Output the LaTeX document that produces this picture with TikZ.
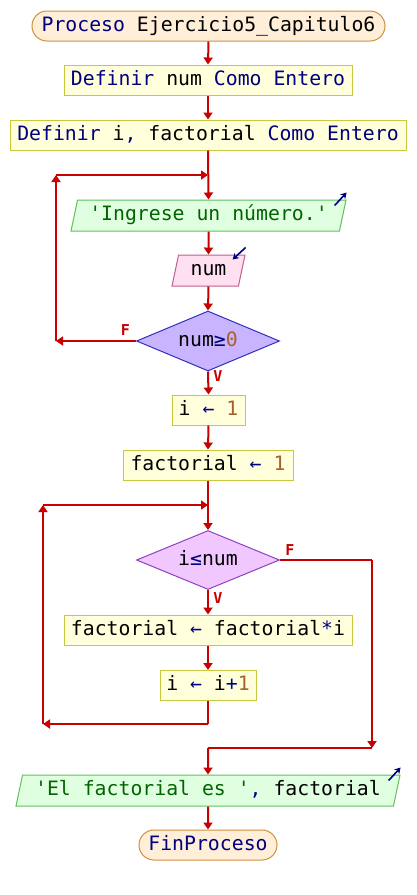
\documentclass[tikz,border=0pt]{standalone}
\usepackage{fontspec}
\usetikzlibrary{shapes.geometric,arrows.meta}
\newfontfamily\pfont{DejaVu Sans Mono}
\newfontfamily\lfont{DejaVu Sans Mono}
\definecolor{kw}{HTML}{000080}
\definecolor{strc}{HTML}{006400}
\definecolor{numc}{HTML}{A8602C}
\definecolor{flow}{HTML}{C80000}
\definecolor{termfill}{HTML}{FFEFD8}
\definecolor{termdraw}{HTML}{D09040}
\definecolor{boxfill}{HTML}{FFFFDC}
\definecolor{boxdraw}{HTML}{C8C83C}
\definecolor{outfill}{HTML}{E0FFE0}
\definecolor{outdraw}{HTML}{60C060}
\definecolor{infill}{HTML}{FFE0F0}
\definecolor{indraw}{HTML}{C06090}
\definecolor{d1fill}{HTML}{C8B4FF}
\definecolor{d1draw}{HTML}{3030C0}
\definecolor{d2fill}{HTML}{F0C8FF}
\definecolor{d2draw}{HTML}{9040C0}
\newcommand{\kwt}[1]{\textcolor{kw}{#1}}
\newcommand{\strt}[1]{\textcolor{strc}{#1}}
\newcommand{\numt}[1]{\textcolor{numc}{#1}}
\begin{document}
\begin{tikzpicture}[x=1pt,y=-1pt,
  every node/.style={font=\pfont\fontsize{19.8}{20}\selectfont, inner sep=0pt, text height=14pt, text depth=4pt},
  term/.style={rectangle, rounded corners=15pt, draw=termdraw, fill=termfill, line width=1pt, minimum height=30pt},
  abox/.style={rectangle, draw=boxdraw, fill=boxfill, line width=1pt, minimum height=30pt},
  para/.style={trapezium, trapezium left angle=70, trapezium right angle=110, trapezium stretches body, line width=1pt, minimum height=31pt},
  outp/.style={para, draw=outdraw, fill=outfill},
  inp/.style={para, draw=indraw, fill=infill},
  dec/.style={diamond, aspect=2.4, line width=1pt, minimum width=143pt, minimum height=60pt},
  flowline/.style={draw=flow, line width=2pt},
  arr/.style={flowline, -{Triangle[length=7pt,width=9pt]}},
  lab/.style={font=\lfont\bfseries\fontsize{15}{15}\selectfont, text=flow, text height=11pt, text depth=0pt},
  icon/.style={draw=kw, line width=1.6pt, -{Stealth[length=6pt,width=7pt]}}
]
\useasboundingbox[fill=white] (0,0) rectangle (416,895);

\node[term, minimum width=353pt] (start) at (208.5,26) {\kwt{Proceso} Ejercicio5\_Capitulo6};
\node[abox, minimum width=288pt] (b1) at (208,80) {\kwt{Definir} num \kwt{Como Entero}};
\node[abox, minimum width=396pt] (b2) at (208,135) {\kwt{Definir} i\kwt{,} factorial \kwt{Como Entero}};
\node[outp, minimum width=275pt] (o1) at (208.5,215.5) {\strt{'Ingrese un número.'}};
\node[inp, minimum width=73pt] (i1) at (208.5,270.5) {num};
\node[dec, fill=d1fill, draw=d1draw] (d1) at (208,341) {num\kwt{≥}\numt{0}};
\node[abox, minimum width=73pt] (a1) at (208.5,410) {i \kwt{←} \numt{1}};
\node[abox, minimum width=170pt] (a2) at (208,465) {factorial \kwt{←} \numt{1}};
\node[dec, fill=d2fill, draw=d2draw, minimum height=59pt] (d2) at (208,560) {i\kwt{≤}num};
\node[abox, minimum width=288pt] (a3) at (208,630) {factorial \kwt{←} factorial\kwt{*}i};
\node[abox, minimum width=96pt] (a4) at (208,685.5) {i \kwt{←} i\kwt{+}\numt{1}};
\node[outp, minimum width=384pt] (o2) at (208,790.5) {\strt{'El factorial es '}\kwt{,} factorial};
\node[term, minimum width=138pt] (end) at (208,845) {\kwt{FinProceso}};

% icons
\draw[icon] ([shift={(-12,6)}]o1.top right corner) -- ([shift={(0,-7)}]o1.top right corner);
\draw[icon] ([shift={(0,-7)}]i1.top right corner) -- ([shift={(-13,5)}]i1.top right corner);
\draw[icon] ([shift={(-12,6)}]o2.top right corner) -- ([shift={(0,-7)}]o2.top right corner);

% coordinates
\coordinate (j1) at (208,175);
\coordinate (l1t) at (56,175);
\coordinate (l1b) at (56,341);
\coordinate (j2) at (208,505);
\coordinate (l2t) at (43,505);
\coordinate (l2b) at (43,724);
\coordinate (a4b) at (208,724);
\coordinate (r2t) at (372,560);
\coordinate (r2b) at (372,748);
\coordinate (j3) at (208,748);

% flow
\draw[arr] (start.south) -- (b1.north);
\draw[arr] (b1.south) -- (b2.north);
\draw[arr] (b2.south) -- (o1.north);
\draw[arr] (o1.south) -- (i1.north);
\draw[arr] (i1.south) -- (d1.north);
\draw[arr] (d1.west) -- (l1b);
\draw[arr] (l1b) -- (l1t);
\draw[arr] (l1t) -- (j1);
\draw[arr] (d1.south) -- (a1.north);
\draw[arr] (a1.south) -- (a2.north);
\draw[arr] (a2.south) -- (d2.north);
\draw[arr] (d2.south) -- (a3.north);
\draw[arr] (a3.south) -- (a4.north);
\draw[flowline] (a4.south) -- (a4b);
\draw[arr] (a4b) -- (l2b);
\draw[arr] (l2b) -- (l2t);
\draw[arr] (l2t) -- (j2);
\draw[flowline] (d2.east) -- (r2t);
\draw[arr] (r2t) -- (r2b);
\draw[flowline] (r2b) -- (j3);
\draw[arr] (j3) -- (o2.north);
\draw[arr] (o2.south) -- (end.north);

% labels
\node[lab] (f1) at (125.5,330) {F};
\node[lab] (v1) at (218,376) {V};
\node[lab] (f2) at (290,550) {F};
\node[lab] (v2) at (218,598) {V};
\end{tikzpicture}
\end{document}
